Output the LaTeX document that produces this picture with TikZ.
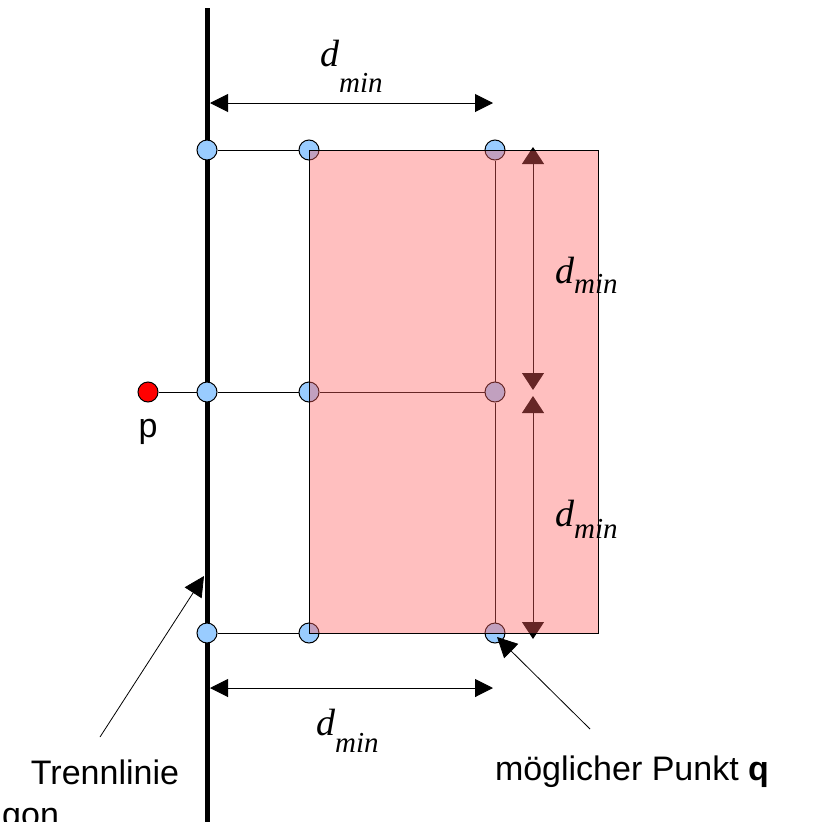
\documentclass[tikz,border=0pt]{standalone}
\usepackage{fontspec}
\setmainfont{Liberation Sans}
\newfontfamily\dimfont{Liberation Serif}
\usetikzlibrary{arrows.meta,positioning}
\definecolor{pointblue}{RGB}{153,204,255}
\definecolor{regionred}{RGB}{255,96,96}
\tikzset{
  grid point/.style={
    circle,
    draw=black,
    fill=pointblue,
    line width=1pt,
    minimum size=20pt,
    inner sep=0pt
  },
  query point/.style={
    grid point,
    fill=red
  },
  link/.style={
    line width=1pt
  },
  dim arrow/.style={
    {Triangle[length=18pt,width=18pt]}-{Triangle[length=18pt,width=18pt]},
    line width=1pt
  },
  vdim arrow/.style={
    {Triangle[length=17pt,width=22pt]}-{Triangle[length=17pt,width=22pt]},
    line width=1pt
  },
  pointer/.style={
    -{Triangle[length=20pt,width=20pt]},
    line width=0.8pt
  },
  label text/.style={
    font=\fontsize{34}{40}\selectfont,
    inner sep=0pt
  },
  dim text/.style={
    anchor=base west,
    inner sep=0pt
  }
}
\newcommand{\dmin}[1][17pt]{{\dimfont\itshape\fontsize{38}{38}\selectfont d}\raisebox{-#1}{\dimfont\itshape\fontsize{29}{29}\selectfont min}}

\begin{document}
\begin{tikzpicture}[x=1pt,y=-1pt]
  \useasboundingbox (0,0) rectangle (814,822);

  % labels with pointers
  \node[label text] (sep label) at (105,772) {Trennlinie};
  \node[label text] (q label) at (632,772) {möglicher Punkt \textbf{q}};
  \node[label text, anchor=base west] (poly label) at (2,826) {gon};
  \coordinate (sep foot) at (100,737);
  \coordinate (sep tip) at (204,576);
  \draw[pointer] (sep foot) -- (sep tip);

  % separating line
  \coordinate (line top) at (207,8);
  \coordinate (line bottom) at (207,830);
  \draw[line width=5pt] (line top) -- (line bottom);

  % points
  \node[query point] (pp) at (148,392) {};
  \node[grid point] (l1) at (207,150) {};
  \node[grid point] (l2) at (207,392) {};
  \node[grid point] (l3) at (207,633) {};
  \node[grid point] (a1) at (309,150) {};
  \node[grid point] (a2) at (309,392) {};
  \node[grid point] (a3) at (309,633) {};
  \node[grid point] (q1) at (495,150) {};
  \node[grid point] (q2) at (495,392) {};
  \node[grid point] (q3) at (495,633) {};
  \node[label text] (p label) at (148,432) {p};

  \draw[link] (pp) -- (l2) -- (a2) -- (q2);
  \draw[link] (l1) -- (a1);
  \draw[link] (l3) -- (a3);
  \draw[link] (q1) -- (q2) -- (q3);

  % vertical distances
  \coordinate (v1) at (533,147);
  \coordinate (v2) at (533,390);
  \coordinate (v3) at (533,396);
  \coordinate (v4) at (533,639);
  \draw[vdim arrow] (v1) -- (v2);
  \draw[vdim arrow] (v3) -- (v4);

  % region of possible points
  \filldraw[fill=regionred, fill opacity=0.4, draw=black, line width=1pt] (309,150) rectangle (598,633);

  % horizontal distances
  \coordinate (dt1) at (210,103);
  \coordinate (dt2) at (493,103);
  \coordinate (db1) at (210,688);
  \coordinate (db2) at (493,688);
  \draw[dim arrow] (dt1) -- (dt2);
  \draw[dim arrow] (db1) -- (db2);

  \node[dim text] (dmin top) at (320,66) {\dmin[26pt]};
  \node[dim text] (dmin right1) at (555,283) {\dmin[10pt]};
  \node[dim text] (dmin right2) at (555,526) {\dmin[12pt]};
  \node[dim text] (dmin bottom) at (316,735) {\dmin[17pt]};

  \coordinate (q foot) at (590,729);
  \coordinate (q tip) at (497,637);
  \draw[pointer] (q foot) -- (q tip);
\end{tikzpicture}
\end{document}
